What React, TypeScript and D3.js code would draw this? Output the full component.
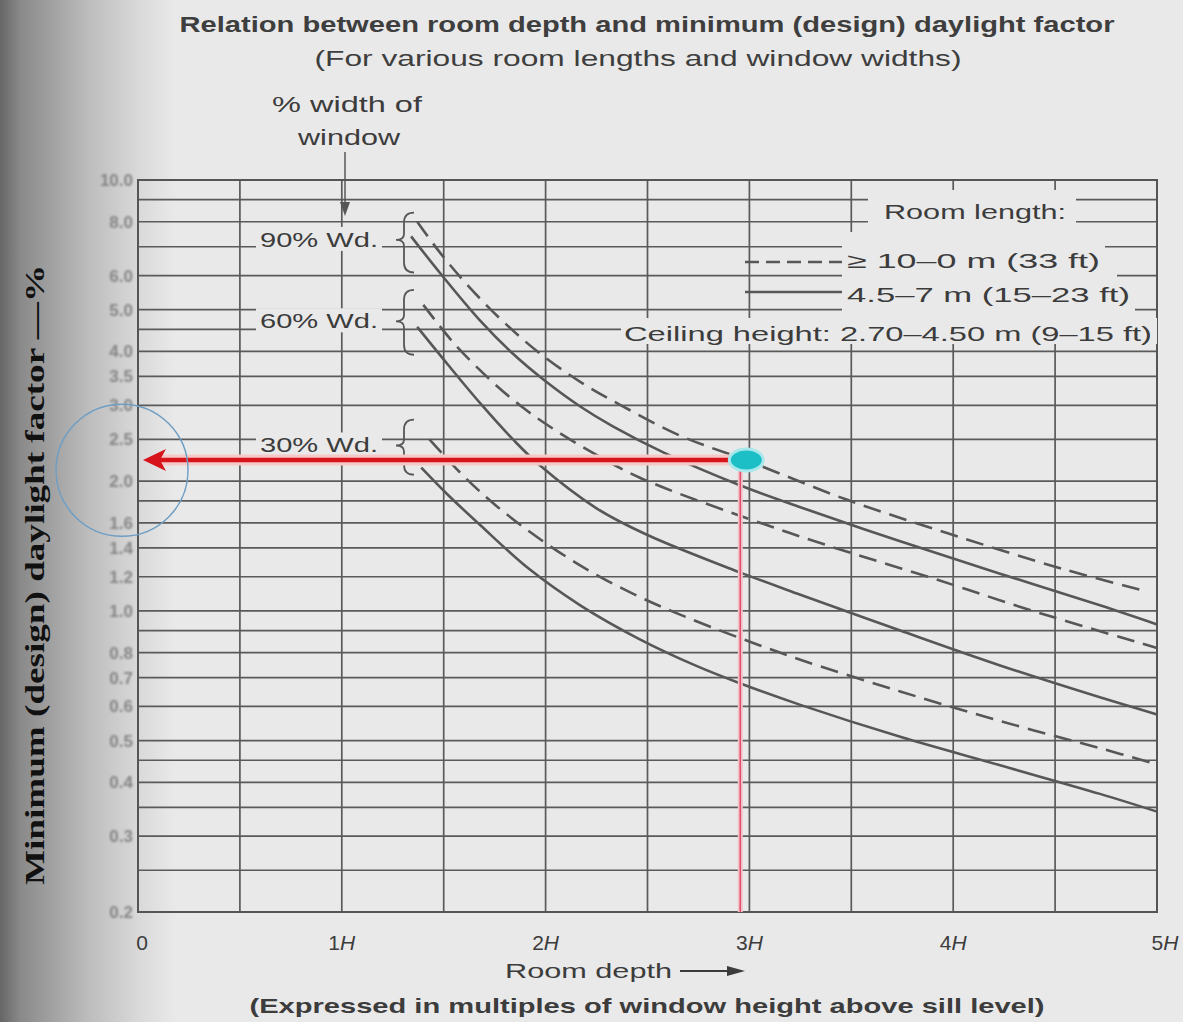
import React from "react";
import * as d3 from "d3";

// room depth (multiples of window height H) vs minimum daylight factor (%)
// "Long" = room length >= 10 m (dashed), "Short" = 4.5-7 m (solid)
const wd90Long = [[1.37, 8.0], [1.48, 6.8], [1.61, 5.75], [1.78, 4.75], [1.96, 4.0], [2.17, 3.4], [2.37, 3.0], [2.66, 2.55], [2.98, 2.24], [3.48, 1.81], [4.0, 1.5], [4.54, 1.25], [4.95, 1.11]];
const wd90Short = [[1.34, 7.4], [1.48, 6.1], [1.68, 4.71], [1.84, 3.95], [2.0, 3.41], [2.17, 2.98], [2.33, 2.68], [2.58, 2.33], [2.95, 1.96], [3.25, 1.74], [3.74, 1.45], [4.23, 1.22], [4.72, 1.03], [5.0, 0.93]];
const wd60Long = [[1.4, 5.13], [1.55, 4.18], [1.73, 3.43], [1.89, 2.96], [2.04, 2.64], [2.23, 2.33], [2.46, 2.04], [2.95, 1.665], [3.41, 1.405], [3.9, 1.19], [4.39, 1.0], [5.0, 0.82]];
const wd60Short = [[1.37, 4.56], [1.52, 3.73], [1.68, 3.03], [1.84, 2.5], [1.97, 2.18], [2.25, 1.73], [2.5, 1.5], [2.95, 1.23], [3.25, 1.09], [3.74, 0.9], [4.23, 0.747], [4.72, 0.63], [5.0, 0.575]];
const wd30Long = [[1.43, 2.5], [1.6, 2.05], [1.76, 1.75], [1.97, 1.47], [2.2, 1.25], [2.43, 1.095], [2.66, 0.98], [2.95, 0.866], [3.25, 0.77], [3.74, 0.65], [4.23, 0.555], [4.72, 0.48], [5.0, 0.44]];
const wd30Short = [[1.39, 2.15], [1.52, 1.86], [1.68, 1.58], [1.92, 1.25], [2.17, 1.03], [2.46, 0.86], [2.74, 0.745], [2.95, 0.68], [3.25, 0.605], [3.74, 0.51], [4.23, 0.438], [4.72, 0.376], [5.0, 0.342]];

const windowWidths = ["90% Wd.", "60% Wd.", "30% Wd."];
// bracket span (top df, nose df, bottom df) beside each pair of curves
const bracketTop = [8.4, 5.56, 2.78];
const bracketNose = [7.26, 4.7, 2.42];
const bracketBottom = [6.1, 3.93, 2.07];

const depthTicks = [0, 1, 2, 3, 4, 5];
const depthGrid = [0, 0.5, 1, 1.5, 2, 2.5, 3, 3.5, 4, 4.5, 5];
const dfGrid = [10, 9, 8, 7, 6, 5, 4.5, 4, 3.5, 3, 2.5, 2, 1.8, 1.6, 1.4, 1.2, 1, 0.9, 0.8, 0.7, 0.6, 0.5, 0.45, 0.4, 0.35, 0.3, 0.25, 0.2];
const dfLabels = ["10.0", "8.0", "6.0", "5.0", "4.0", "3.5", "3.0", "2.5", "2.0", "1.6", "1.4", "1.2", "1.0", "0.8", "0.7", "0.6", "0.5", "0.4", "0.3", "0.2"];

// the worked example: 3H deep room
const readout = [2.97, 2.24];

const x = d3.scaleLinear().domain([0, 5]).range([138, 1157]);
const y = d3.scaleLog().domain([0.2, 10]).range([912, 180]);

const line = d3
  .line<number[]>()
  .x((d) => x(d[0]))
  .y((d) => y(d[1]))
  .curve(d3.curveCatmullRom.alpha(0.5));

const ink = "#575757";
const sans = "'Liberation Sans', Arial, sans-serif";

const curves = [
  { data: wd90Long, dashed: true },
  { data: wd90Short, dashed: false },
  { data: wd60Long, dashed: true },
  { data: wd60Short, dashed: false },
  { data: wd30Long, dashed: true },
  { data: wd30Short, dashed: false },
];

const bracePath = (bx, top, nose, bottom) =>
  `M${bx + 10},${top} Q${bx},${top} ${bx},${top + 10} L${bx},${nose - 6} Q${bx},${nose} ${bx - 8},${nose} ` +
  `Q${bx},${nose} ${bx},${nose + 6} L${bx},${bottom - 10} Q${bx},${bottom} ${bx + 10},${bottom}`;

const App = () => {
  const bg = "#e9e9e9";
  const x0 = x(0);
  const x5 = x(5);
  const rx = x(readout[0]);
  const ry = y(readout[1]);

  return (
    <svg
      width={1183}
      height={1022}
      style={{ position: "absolute", left: 0, top: 0, background: bg }}
    >
      <defs>
        <linearGradient id="shade" x1="0" x2="1" y1="0" y2="0">
          <stop offset="0" stopColor="#666" />
          <stop offset="0.12" stopColor="#8a8a8a" />
          <stop offset="0.5" stopColor="#bcbcbc" />
          <stop offset="0.8" stopColor="#dadada" />
          <stop offset="1" stopColor={bg} />
        </linearGradient>
        <filter id="soft">
          <feGaussianBlur stdDeviation="0.9" />
        </filter>
      </defs>

      <rect x={0} y={0} width={175} height={1022} fill="url(#shade)" />

      {/* grid */}
      <g stroke="#5a5a5a" strokeWidth={1.7}>
        {dfGrid.map((v) => (
          <line key={"h" + v} x1={x0} x2={x5} y1={y(v)} y2={y(v)} />
        ))}
        {depthGrid.map((v) => (
          <line key={"v" + v} x1={x(v)} x2={x(v)} y1={y(10)} y2={y(0.2)} />
        ))}
      </g>
      <rect x={x0} y={y(10)} width={x5 - x0} height={y(0.2) - y(10)} fill="none" stroke="#555" strokeWidth={2} />

      {/* y tick labels, faded as in the scan */}
      <g filter="url(#soft)" fill="#858585" fontFamily={sans} fontSize={17} fontWeight="bold" textAnchor="end">
        {dfLabels.map((t) => (
          <text key={t} x={133} y={y(+t) + 6}>
            {t}
          </text>
        ))}
      </g>

      {/* legend background (breaks the grid) */}
      <g fill={bg}>
        <rect x={868} y={190} width={208} height={42} />
        <rect x={842} y={232} width={263} height={22} />
        <rect x={842} y={254} width={275} height={30} />
        <rect x={842} y={284} width={293} height={34} />
        <rect x={621} y={318} width={536} height={26} />
      </g>
      <g fontFamily={sans} fontSize={21} fill="#3c3c3c">
        <text x={884} y={219} textLength={182} lengthAdjust="spacingAndGlyphs">Room length:</text>
        <text x={847} y={268} textLength={253} lengthAdjust="spacingAndGlyphs">≥ 10–0 m (33 ft)</text>
        <text x={847} y={302} textLength={283} lengthAdjust="spacingAndGlyphs">4.5–7 m (15–23 ft)</text>
        <text x={624} y={341} textLength={528} lengthAdjust="spacingAndGlyphs">Ceiling height: 2.70–4.50 m (9–15 ft)</text>
      </g>
      <line x1={745} x2={842} y1={262} y2={262} stroke={ink} strokeWidth={2.6} strokeDasharray="14 7" />
      <line x1={745} x2={842} y1={292} y2={292} stroke={ink} strokeWidth={2.6} />

      {/* window width labels and braces */}
      {windowWidths.map((w, i) => {
        const ny = y(bracketNose[i]);
        return (
          <g key={w}>
            <rect x={256} y={ny - 13} width={126} height={24} fill={bg} />
            <text x={260} y={ny + 7} fontFamily={sans} fontSize={20} fill="#3c3c3c" textLength={118} lengthAdjust="spacingAndGlyphs">
              {w}
            </text>
            <path
              d={bracePath(404, y(bracketTop[i]), ny, y(bracketBottom[i]))}
              fill="none"
              stroke={ink}
              strokeWidth={1.8}
            />
          </g>
        );
      })}

      {/* curves */}
      {curves.map((c, i) => (
        <path
          key={i}
          d={line(c.data) || ""}
          fill="none"
          stroke={ink}
          strokeWidth={2.6}
          strokeDasharray={c.dashed ? "18 9" : undefined}
        />
      ))}

      {/* worked example annotation */}
      <line x1={rx - 3} x2={rx - 3} y1={ry + 8} y2={y(0.2)} stroke="#f4c4cc" strokeWidth={5} />
      <line x1={rx - 3} x2={rx - 3} y1={ry + 8} y2={y(0.2)} stroke="#e0506c" strokeWidth={1.6} />
      <line x1={x0 + 18} x2={rx - 10} y1={ry} y2={ry} stroke="#f6c9c9" strokeWidth={11} />
      <line x1={x0 + 18} x2={rx - 10} y1={ry} y2={ry} stroke="#d7141c" strokeWidth={4.5} />
      <path
        d={`M${x0 + 5},${ry} L${x0 + 28},${ry - 11} L${x0 + 22},${ry} L${x0 + 28},${ry + 11} Z`}
        fill="#d7141c"
      />
      <ellipse cx={rx + 3} cy={ry} rx={17} ry={11} fill="#1bbfc5" stroke="#a8e8ec" strokeWidth={3} />
      <circle cx={x0 - 16} cy={y(2.12)} r={66} fill="none" stroke="#6f9ec4" strokeWidth={1.5} />

      {/* % width of window */}
      <g fontFamily={sans} fontSize={22} fill="#3c3c3c" textAnchor="middle">
        <text x={347} y={112} textLength={150} lengthAdjust="spacingAndGlyphs">% width of</text>
        <text x={349} y={145} textLength={102} lengthAdjust="spacingAndGlyphs">window</text>
      </g>
      <line x1={345} x2={345} y1={152} y2={210} stroke={ink} strokeWidth={1.5} />
      <path d="M340,202 L345,216 L350,202 Z" fill={ink} />

      {/* titles */}
      <g fontFamily={sans} fill="#3e3e3e" textAnchor="middle" fontWeight="bold">
        <text x={647} y={32} fontSize={22} textLength={935} lengthAdjust="spacingAndGlyphs">
          Relation between room depth and minimum (design) daylight factor
        </text>
        <text x={638} y={66} fontSize={22} fontWeight="normal" textLength={647} lengthAdjust="spacingAndGlyphs">
          (For various room lengths and window widths)
        </text>
      </g>

      {/* x axis labels */}
      <g fontFamily={sans} fontSize={21} fill="#3c3c3c" textAnchor="middle">
        {depthTicks.map((t) => (
          <text key={t} x={x(t) + (t === 0 ? 4 : t === 5 ? 8 : 0)} y={950}>
            {t === 0 ? "0" : t}
            {t === 0 ? null : <tspan fontStyle="italic">H</tspan>}
          </text>
        ))}
      </g>
      <text x={505} y={978} fontFamily={sans} fontSize={21} fill="#3c3c3c" textLength={167} lengthAdjust="spacingAndGlyphs">
        Room depth
      </text>
      <line x1={680} x2={735} y1={971} y2={971} stroke="#3c3c3c" strokeWidth={2} />
      <path d="M727,966 L745,971 L727,976 Z" fill="#3c3c3c" />
      <text x={647} y={1013} fontFamily={sans} fontSize={21} fontWeight="bold" fill="#3c3c3c" textAnchor="middle" textLength={795} lengthAdjust="spacingAndGlyphs">
        (Expressed in multiples of window height above sill level)
      </text>

      {/* y axis title */}
      <text
        transform="translate(44,575) rotate(-90)"
        textAnchor="middle"
        fontFamily="'Liberation Serif', 'Times New Roman', serif"
        fontWeight="bold"
        fontSize={27}
        fill="#111"
        textLength={620}
        lengthAdjust="spacingAndGlyphs"
      >
        Minimum (design) daylight factor —%
      </text>
    </svg>
  );
};

export default App;
